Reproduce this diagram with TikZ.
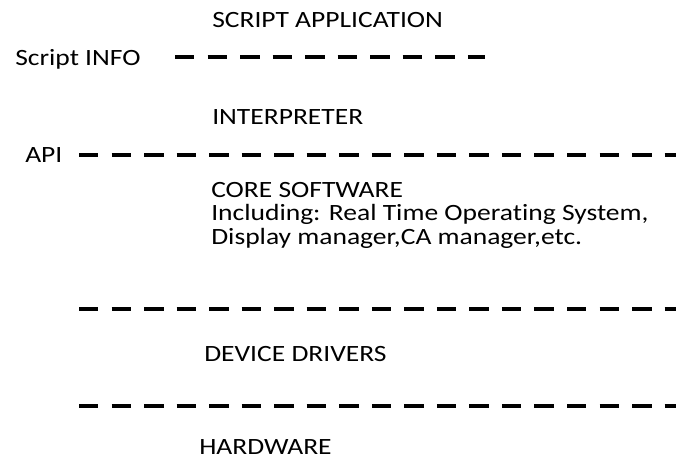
\documentclass[tikz,border=0pt]{standalone}
\usepackage{fontspec}
\setmainfont{Carlito}[FakeStretch=1.18,Ligatures=NoCommon]
\begin{document}
\begin{tikzpicture}[x=0.75pt,y=-0.75pt,
  lbl/.style={anchor=base west,inner sep=0pt,font=\fontsize{17.5}{17.25}\selectfont},
  sep/.style={line width=3pt,dash pattern=on 14.6pt off 9.8pt}]
\useasboundingbox (0,0) rectangle (676,460);
\fill[white] (0,0) rectangle (676,460);
% labels
\node[lbl] (app) at (212,28) {SCRIPT APPLICATION};
\node[lbl] (info) at (15,66) {Script INFO};
\node[lbl] (interp) at (212,125) {INTERPRETER};
\node[lbl] (api) at (25,163) {API};
\node[lbl] (core) at (211,198) {CORE SOFTWARE};
\node[lbl] (core2) at (211,221) {Including: Real Time Operating System,};
\node[lbl] (core3) at (211,244) {Display manager,CA manager,etc.};
\node[lbl] (dev) at (204,361) {DEVICE DRIVERS};
\node[lbl] (hw) at (199,454) {HARDWARE};
% separator end points
\coordinate (s1a) at (175,57);  \coordinate (s1b) at (485,57);
\coordinate (s2a) at (79,155);  \coordinate (s2b) at (676,155);
\coordinate (s3a) at (79,309);  \coordinate (s3b) at (676,309);
\coordinate (s4a) at (79,406);  \coordinate (s4b) at (676,406);
\draw[sep] (s1a) -- (s1b);
\draw[sep] (s2a) -- (s2b);
\draw[sep] (s3a) -- (s3b);
\draw[sep] (s4a) -- (s4b);
\end{tikzpicture}
\end{document}
